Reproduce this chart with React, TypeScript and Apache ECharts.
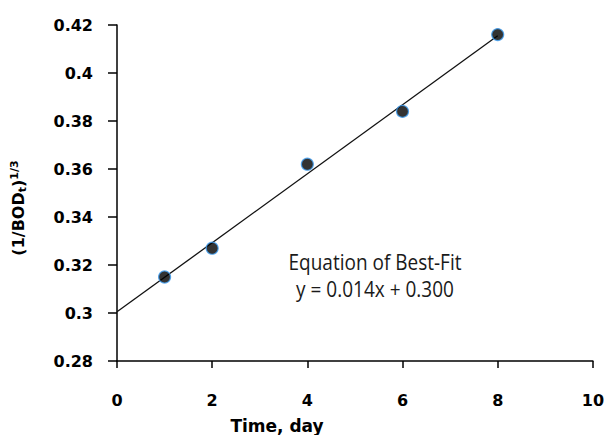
import React, { useEffect, useRef } from "react";
import * as echarts from "echarts";

const days = [1, 2, 4, 6, 8];
const values = [0.315, 0.327, 0.362, 0.384, 0.416];
const fitLine = [
  [0, 0.3005],
  [8, 0.4155],
];
const xTicks = { min: 0, max: 10, interval: 2 };
const yTicks = { min: 0.28, max: 0.42, interval: 0.02 };

export default function App() {
  const ref = useRef<HTMLDivElement>(null);
  useEffect(() => {
    if (!ref.current) return;
    const chart = echarts.init(ref.current, undefined, { renderer: "svg" });
    const labelFont = {
      fontFamily: "DejaVu Sans",
      fontWeight: "bold" as const,
      fontSize: 16,
      color: "#000",
    };
    chart.setOption({
      animation: false,
      backgroundColor: "#fff",
      grid: { left: 117, top: 25, width: 476, height: 336 },
      xAxis: {
        type: "value",
        min: xTicks.min,
        max: xTicks.max,
        interval: xTicks.interval,
        axisLine: { show: true, onZero: false, lineStyle: { color: "#000", width: 1.5 } },
        axisTick: { show: true, inside: false, length: 7, lineStyle: { color: "#000", width: 1.5 } },
        splitLine: { show: false },
        axisLabel: { ...labelFont, margin: 31 },
      },
      yAxis: {
        type: "value",
        min: yTicks.min,
        max: yTicks.max,
        interval: yTicks.interval,
        axisLine: { show: true, onZero: false, lineStyle: { color: "#000", width: 1.5 } },
        axisTick: { show: true, inside: false, length: 9, lineStyle: { color: "#000", width: 1.5 } },
        splitLine: { show: false },
        axisLabel: {
          ...labelFont,
          margin: 24,
          formatter: (v: number) => String(parseFloat(v.toFixed(2))),
        },
      },
      series: [
        {
          type: "line",
          data: fitLine,
          symbol: "none",
          lineStyle: { color: "#111", width: 1.3 },
          z: 2,
        },
        {
          type: "scatter",
          data: days.map((d, i) => [d, values[i]]),
          symbol: "circle",
          symbolSize: 12,
          itemStyle: { color: "#000", borderColor: "#3d9cf0", borderWidth: 1.2 },
          z: 3,
        },
      ],
      graphic: [
        {
          type: "text",
          x: 277,
          y: 426,
          style: {
            text: "Time, day",
            font: "bold 17px 'DejaVu Sans'",
            fill: "#000",
            align: "center",
            verticalAlign: "middle",
          },
        },
        {
          type: "text",
          x: 18,
          y: 208,
          rotation: Math.PI / 2,
          style: {
            text: "{a|(1/BOD}{s|t}{a|)}{p|1/3}",
            align: "center",
            verticalAlign: "middle",
            rich: {
              a: { fontFamily: "DejaVu Sans", fontWeight: "bold", fontSize: 16, fill: "#000" },
              s: { fontFamily: "DejaVu Sans", fontWeight: "bold", fontSize: 11, fill: "#000", verticalAlign: "bottom", padding: [8, 0, 0, 0] },
              p: { fontFamily: "DejaVu Sans", fontWeight: "bold", fontSize: 11, fill: "#000", verticalAlign: "top", padding: [0, 0, 8, 0] },
            },
          },
        },
        {
          type: "text",
          x: 375,
          y: 262,
          scaleY: 1.1,
          style: {
            text: "Equation of Best-Fit",
            fontFamily: "Open Sans",
            fontSize: 19,
            fill: "#1a1a1a",
            align: "center",
            verticalAlign: "middle",
          },
        },
        {
          type: "text",
          x: 375,
          y: 289,
          scaleY: 1.1,
          style: {
            text: "y = 0.014x + 0.300",
            fontFamily: "Open Sans",
            fontSize: 19,
            fill: "#1a1a1a",
            align: "center",
            verticalAlign: "middle",
          },
        },
      ],
    });
    return () => chart.dispose();
  }, []);
  return (
    <div
      ref={ref}
      style={{ position: "fixed", left: 0, top: 0, width: 607, height: 435 }}
    />
  );
}
